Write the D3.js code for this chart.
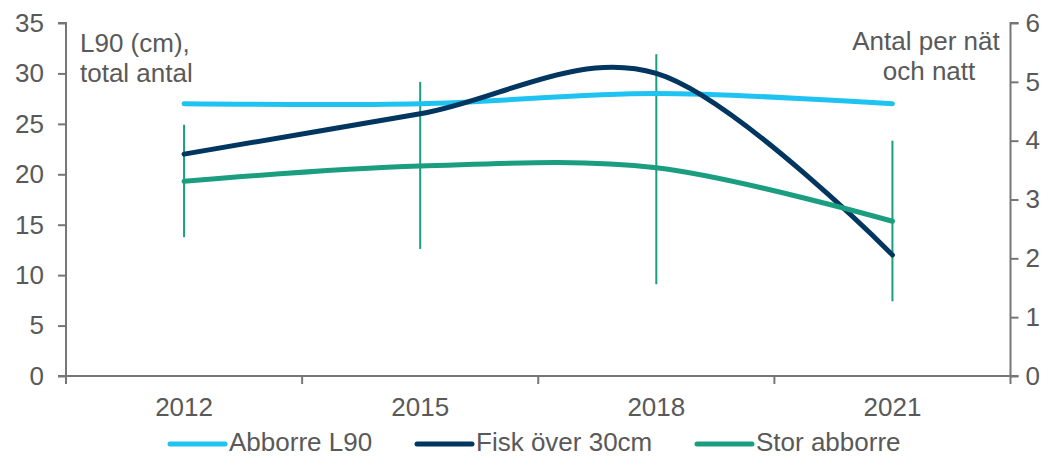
<!DOCTYPE html>
<html>
<head>
<meta charset="utf-8">
<script src="https://cdn.jsdelivr.net/npm/d3@7"></script>
<style>
  html, body { margin: 0; padding: 0; background: #fff; }
  svg text { font-family: "Liberation Sans", Arial, sans-serif; fill: #595959; }
</style>
</head>
<body>
<svg id="chart" width="1049" height="457"></svg>
<script>
// ---- data ----
const years = ["2012", "2015", "2018", "2021"];
const abborreL90 = [27.0, 27.0, 28.0, 27.0];          // left axis (cm)
const fiskOver30 = [22.0, 26.0, 30.0, 12.0];           // left axis (total antal)
const storAbborre = [3.31, 3.57, 3.54, 2.63];          // right axis (antal per nät och natt)
const storLow = [2.36, 2.16, 1.56, 1.27];
const storHigh = [4.27, 5.00, 5.47, 4.00];
const leftTicks = [0, 5, 10, 15, 20, 25, 30, 35];
const rightTicks = [0, 1, 2, 3, 4, 5, 6];
const seriesNames = ["Abborre L90", "Fisk över 30cm", "Stor abborre"];
const colors = ["#1FC3F2", "#00365F", "#1A9E7F"];

// ---- layout ----
const svg = d3.select("#chart");
const axisColor = "#767676";
const FS = "26px";
const X0 = 66, X1 = 1010.5, Y0 = 376, Y1 = 23;

const x = d3.scaleBand().domain(years).range([X0, X1]).paddingInner(0).paddingOuter(0);
const cx = d => x(d) + x.bandwidth() / 2;
const yL = d3.scaleLinear().domain([0, 35]).range([Y0, Y1]);
const yR = d3.scaleLinear().domain([0, 6]).range([Y0, Y1]);

// left axis
const gL = svg.append("g").attr("transform", `translate(${X0},0)`)
  .call(d3.axisLeft(yL).tickValues(leftTicks).tickFormat(d3.format("d")).tickSize(8).tickPadding(14));
// right axis
const gR = svg.append("g").attr("transform", `translate(${X1},0)`)
  .call(d3.axisRight(yR).tickValues(rightTicks).tickFormat(d3.format("d")).tickSize(8).tickPadding(7));
// bottom axis
const gB = svg.append("g").attr("transform", `translate(0,${Y0})`)
  .call(d3.axisBottom(x).tickSize(0).tickPadding(22));
const bounds = years.map(d => x(d)).concat([X1]);
gB.selectAll(".bt").data(bounds).enter().append("line")
  .attr("x1", d => d).attr("x2", d => d).attr("y1", 0).attr("y2", 8)
  .attr("stroke", axisColor).attr("stroke-width", 2);

[gL, gR, gB].forEach(g => {
  g.select(".domain").attr("stroke", axisColor).attr("stroke-width", 2);
  g.selectAll(".tick line").attr("stroke", axisColor).attr("stroke-width", 2);
  g.selectAll(".tick text").style("font-family", '"Liberation Sans", Arial, sans-serif')
    .style("font-size", FS).attr("fill", "#595959");
});
gL.select(".domain").attr("d", `M-8,${Y0}H0V${Y1}H-8`);
gR.select(".domain").attr("d", `M8,${Y1}H0V${Y0}H8`);
gB.select(".domain").attr("d", `M${X0},0H${X1}`);

// error bars for Stor abborre
svg.append("g").selectAll("line").data(years).enter().append("line")
  .attr("x1", d => cx(d)).attr("x2", d => cx(d))
  .attr("y1", (d, i) => yR(storHigh[i])).attr("y2", (d, i) => yR(storLow[i]))
  .attr("stroke", colors[2]).attr("stroke-width", 2);

// smoothed lines
const curve = d3.curveCatmullRom.alpha(0);
function drawLine(vals, scale, color) {
  const line = d3.line().x((d, i) => cx(years[i])).y(d => scale(d)).curve(curve);
  svg.append("path").datum(vals).attr("d", line)
    .attr("fill", "none").attr("stroke", color).attr("stroke-width", 5)
    .attr("stroke-linecap", "round").attr("stroke-linejoin", "round");
}
drawLine(abborreL90, yL, colors[0]);
drawLine(fiskOver30, yL, colors[1]);
drawLine(storAbborre, yR, colors[2]);

// axis annotations
const ann = svg.append("g").style("font-size", FS);
ann.append("text").attr("x", 80).attr("y", 52).text("L90 (cm),");
ann.append("text").attr("x", 80).attr("y", 82).text("total antal");
ann.append("text").attr("x", 926).attr("y", 50).attr("text-anchor", "middle").text("Antal per nät");
ann.append("text").attr("x", 929).attr("y", 80).attr("text-anchor", "middle").text("och natt");

// legend
const legendX = [170, 417, 697];
const lg = svg.append("g");
seriesNames.forEach((name, i) => {
  lg.append("line").attr("x1", legendX[i]).attr("x2", legendX[i] + 55)
    .attr("y1", 444).attr("y2", 444).attr("stroke", colors[i])
    .attr("stroke-width", 5).attr("stroke-linecap", "round");
  lg.append("text").attr("x", legendX[i] + 59).attr("y", 451)
    .style("font-size", FS).text(name);
});
</script>
</body>
</html>
